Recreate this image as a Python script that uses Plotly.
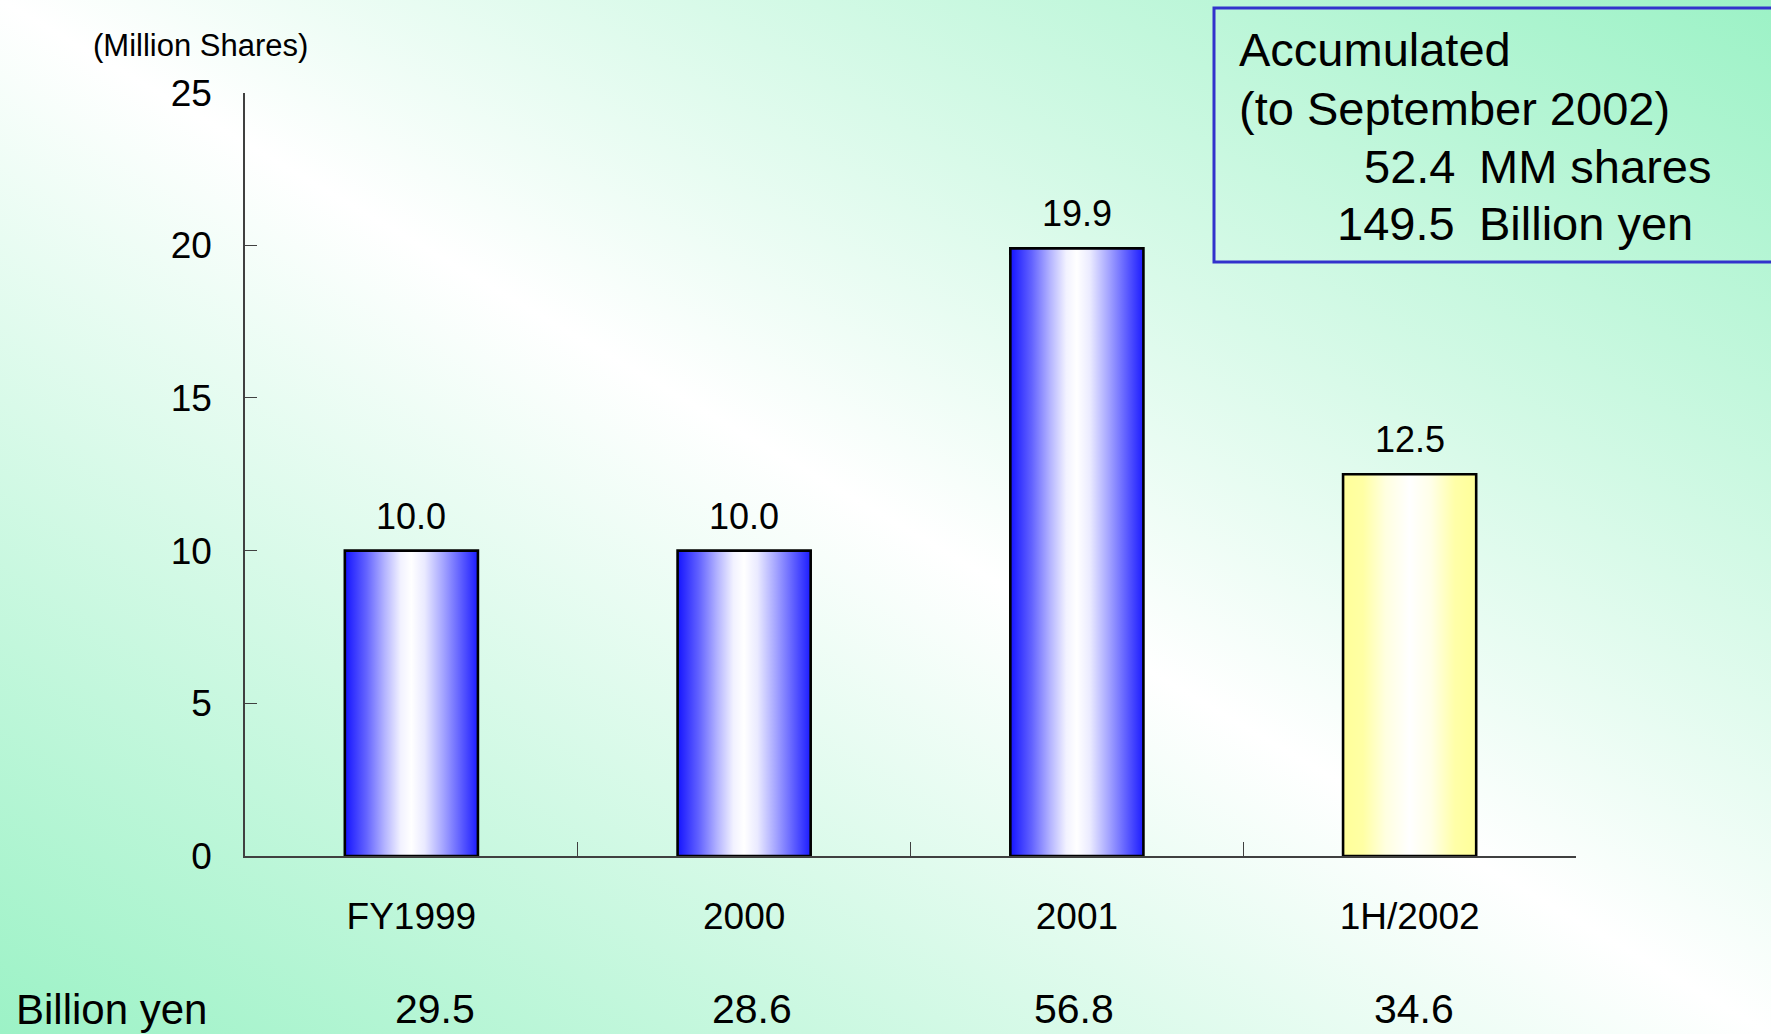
import base64
import plotly.graph_objects as go

# ---- data ----
categories = ["FY1999", "2000", "2001", "1H/2002"]
shares_mm = [10.0, 10.0, 19.9, 12.5]
billion_yen = [29.5, 28.6, 56.8, 34.6]
y_ticks = [0, 5, 10, 15, 20, 25]
total_shares_mm = 52.4
total_billion_yen = 149.5

# ---- styling ----
W, H = 1771, 1034
FONT = "Liberation Sans, Arial, sans-serif"
AXIS_COLOR = "#404040"
BAR_W = 0.4
X_DOMAIN = [245 / W, 1576 / W]
Y_DOMAIN = [(H - 856) / H, (H - 92.6) / H]

BLUE_SCALE = [[0, "#1414ff"], [0.16, "#6262ff"], [0.3, "#b4b4ff"], [0.42, "#f2f2ff"],
              [0.5, "#ffffff"], [0.6, "#eaeaff"], [0.74, "#a4a4ff"], [0.88, "#5a5aff"],
              [1, "#1c1cff"]]
YELLOW_SCALE = [[0, "#ffff99"], [0.15, "#ffffa4"], [0.32, "#ffffe0"], [0.5, "#ffffff"],
                [0.66, "#ffffe8"], [0.84, "#ffffa8"], [1, "#ffff99"]]
bar_scales = [BLUE_SCALE, BLUE_SCALE, BLUE_SCALE, YELLOW_SCALE]
yen_xshift = [24, 8, -3, 4]

# diagonal mint -> white -> mint slide background
bg_svg = (
    '<svg xmlns="http://www.w3.org/2000/svg" width="1771" height="1034" '
    'viewBox="0 0 1 1" preserveAspectRatio="none"><defs>'
    '<linearGradient id="g" x1="0" y1="1" x2="1" y2="0">'
    '<stop offset="0" stop-color="#9cf2c6"/>'
    '<stop offset="0.5" stop-color="#ffffff"/>'
    '<stop offset="1" stop-color="#9cf2c6"/>'
    '</linearGradient></defs><rect width="1" height="1" fill="url(#g)"/></svg>'
)
bg_uri = "data:image/svg+xml;base64," + base64.b64encode(bg_svg.encode()).decode()

fig = go.Figure()

# gradient fills of the bars (numeric x axis underneath)
for i, v in enumerate(shares_mm):
    fig.add_trace(go.Scatter(
        x=[i - BAR_W / 2, i + BAR_W / 2, i + BAR_W / 2, i - BAR_W / 2, i - BAR_W / 2],
        y=[0, 0, v, v, 0],
        mode="lines", fill="toself",
        fillgradient=dict(type="horizontal", colorscale=bar_scales[i]),
        line=dict(width=0), hoverinfo="skip", showlegend=False,
        xaxis="x", yaxis="y",
    ))

# bar outlines on the category axis
fig.add_trace(go.Bar(
    x=categories, y=shares_mm, width=BAR_W,
    marker=dict(color="rgba(0,0,0,0)", line=dict(color="black", width=2.6)),
    xaxis="x2", yaxis="y", showlegend=False, hoverinfo="skip",
))

annotations = []
for i, v in enumerate(shares_mm):
    annotations.append(dict(
        x=i, y=v, xref="x", yref="y", text=f"{v:.1f}", showarrow=False,
        yanchor="bottom", yshift=12, font=dict(family=FONT, size=36, color="black"),
    ))
for i, v in enumerate(billion_yen):
    annotations.append(dict(
        x=i, y=1 - 1009 / H, xref="x", yref="paper", text=f"{v:.1f}", showarrow=False,
        yanchor="middle", xshift=yen_xshift[i],
        font=dict(family=FONT, size=41, color="black"),
    ))
annotations += [
    dict(x=14 / W, y=1 - 1009 / H, xref="paper", yref="paper", text="Billion yen",
         showarrow=False, xanchor="left", yanchor="middle",
         font=dict(family=FONT, size=42, color="black")),
    dict(x=200 / W, y=1 - 46 / H, xref="paper", yref="paper", text="(Million Shares)",
         showarrow=False, xanchor="center", yanchor="middle",
         font=dict(family=FONT, size=31, color="black")),
    dict(x=1237 / W, y=1 - 50 / H, xref="paper", yref="paper", text="Accumulated",
         showarrow=False, xanchor="left", yanchor="middle",
         font=dict(family=FONT, size=47, color="black")),
    dict(x=1237 / W, y=1 - 108 / H, xref="paper", yref="paper", text="(to September 2002)",
         showarrow=False, xanchor="left", yanchor="middle",
         font=dict(family=FONT, size=47, color="black")),
    dict(x=1457 / W, y=1 - 166 / H, xref="paper", yref="paper", text=f"{total_shares_mm:.1f}",
         showarrow=False, xanchor="right", yanchor="middle",
         font=dict(family=FONT, size=47, color="black")),
    dict(x=1477 / W, y=1 - 166 / H, xref="paper", yref="paper", text="MM shares",
         showarrow=False, xanchor="left", yanchor="middle",
         font=dict(family=FONT, size=47, color="black")),
    dict(x=1457 / W, y=1 - 224 / H, xref="paper", yref="paper", text=f"{total_billion_yen:.1f}",
         showarrow=False, xanchor="right", yanchor="middle",
         font=dict(family=FONT, size=47, color="black")),
    dict(x=1477 / W, y=1 - 224 / H, xref="paper", yref="paper", text="Billion yen",
         showarrow=False, xanchor="left", yanchor="middle",
         font=dict(family=FONT, size=47, color="black")),
]

fig.update_layout(
    width=W, height=H,
    margin=dict(l=0, r=0, t=0, b=0, autoexpand=False),
    paper_bgcolor="white", plot_bgcolor="rgba(0,0,0,0)",
    font=dict(family=FONT, color="black"),
    showlegend=False,
    images=[dict(source=bg_uri, xref="paper", yref="paper", x=0, y=1, sizex=1, sizey=1,
                 xanchor="left", yanchor="top", sizing="stretch", layer="below")],
    xaxis=dict(domain=X_DOMAIN, range=[-0.5, 3.5], visible=False, fixedrange=True,
               automargin=False),
    xaxis2=dict(
        type="category", overlaying="x", anchor="y", side="bottom",
        range=[-0.5, 3.5], categoryorder="array", categoryarray=categories,
        tickson="boundaries", ticks="inside", ticklen=14, tickwidth=1.3,
        tickcolor=AXIS_COLOR, showline=True, linecolor=AXIS_COLOR, linewidth=1.5,
        showgrid=False, zeroline=False, ticklabelstandoff=27, automargin=False,
        tickfont=dict(family=FONT, size=37, color="black"), fixedrange=True,
    ),
    yaxis=dict(
        domain=Y_DOMAIN, range=[0, 25], tickvals=y_ticks,
        ticks="inside", ticklen=12, tickwidth=1.3, tickcolor=AXIS_COLOR,
        showline=True, linecolor=AXIS_COLOR, linewidth=1.5,
        showgrid=False, zeroline=False, ticklabelstandoff=24, automargin=False,
        tickfont=dict(family=FONT, size=37, color="black"), fixedrange=True,
    ),
    annotations=annotations,
    shapes=[dict(type="rect", xref="paper", yref="paper",
                 x0=1214 / W, x1=1.02, y0=1 - 262 / H, y1=1 - 8 / H,
                 line=dict(color="#3232cc", width=3), fillcolor="rgba(0,0,0,0)")],
)

fig.write_html("out.html")
